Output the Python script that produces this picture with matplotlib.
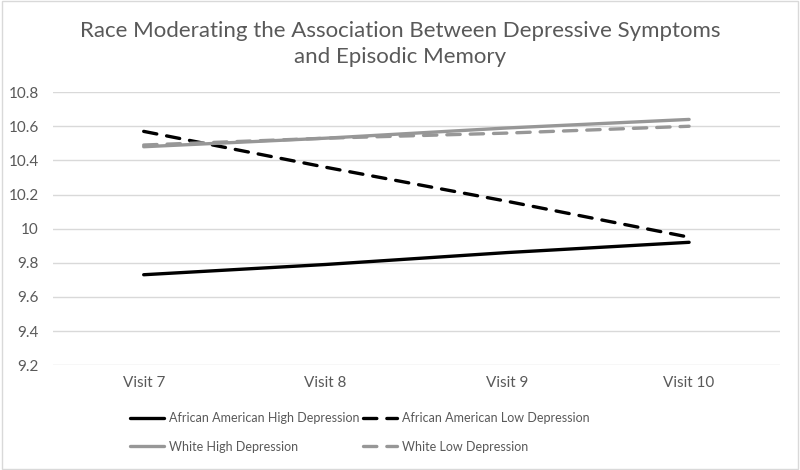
import matplotlib.pyplot as plt
from matplotlib.patches import Rectangle

plt.rcParams['font.family'] = ['Lato', 'DejaVu Sans']

visits = ['Visit 7', 'Visit 8', 'Visit 9', 'Visit 10']
aa_high = [9.73, 9.79, 9.86, 9.92]
aa_low = [10.57, 10.36, 10.16, 9.95]
white_high = [10.48, 10.53, 10.59, 10.64]
white_low = [10.49, 10.53, 10.56, 10.60]

text_col = '#595959'
grey = '#979797'

fig = plt.figure(figsize=(8, 4.7), dpi=100)
ax = fig.add_axes([0.066, 0.223, 0.909, 0.581])

x = range(len(visits))
l1, = ax.plot(x, aa_high, color='black', lw=2.4, solid_capstyle='round',
              label='African American High Depression')
l2, = ax.plot(x, aa_low, color='black', lw=2.4, dashes=(4, 3), dash_capstyle='round',
              label='African American Low Depression')
l3, = ax.plot(x, white_high, color=grey, lw=2.4, solid_capstyle='round',
              label='White High Depression')
l4, = ax.plot(x, white_low, color=grey, lw=2.4, dashes=(4, 3), dash_capstyle='round',
              label='White Low Depression')

ax.set_xlim(-0.5, 3.5)
ax.set_ylim(9.2, 10.8)
ax.set_yticks([9.2, 9.4, 9.6, 9.8, 10, 10.2, 10.4, 10.6, 10.8])
ax.set_yticklabels(['9.2', '9.4', '9.6', '9.8', '10', '10.2', '10.4', '10.6', '10.8'])
ax.set_xticks(list(x))
ax.set_xticklabels(visits)
ax.tick_params(length=0, colors=text_col, labelsize=11, pad=8)
ax.tick_params(axis='y', pad=10)
ax.grid(axis='y', color='#d9d9d9', lw=1)
ax.set_axisbelow(True)
for s in ax.spines.values():
    s.set_visible(False)

fig.suptitle('Race Moderating the Association Between Depressive Symptoms\nand Episodic Memory',
             y=0.955, fontsize=16, color=text_col, linespacing=1.35)

# matplotlib fills legend columns first, so order handles to read row by row
leg = fig.legend([l1, l3, l2, l4], [l.get_label() for l in (l1, l3, l2, l4)],
                 loc='center left', bbox_to_anchor=(0.155, 0.08), ncol=2, frameon=False,
                 fontsize=9, handlelength=2.7, handletextpad=0.4, columnspacing=0.3,
                 labelspacing=1.3, borderpad=0)
for t in leg.get_texts():
    t.set_color(text_col)

fig.patches.append(Rectangle((0.002, 0.003), 0.996, 0.994, transform=fig.transFigure,
                             fill=False, edgecolor='#d9d9d9', lw=1))

fig.savefig('out.png', dpi=100)
